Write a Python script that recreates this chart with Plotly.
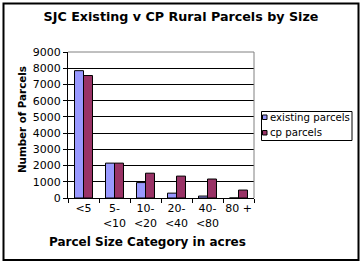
import plotly.graph_objects as go

categories = ["<5", "5-<br><10", "10-<br><20", "20-<br><40", "40-<br><80", "80 +"]
existing = [7850, 2150, 950, 300, 120, 0]
cp = [7550, 2150, 1530, 1350, 1170, 490]
yticks = [0, 1000, 2000, 3000, 4000, 5000, 6000, 7000, 8000, 9000]
series_names = ["existing parcels", "cp parcels"]
series_colors = ["#9999FF", "#993366"]

W, H = 364, 265
L, R, T, B = 68, 254, 52, 198  # plot area pixel box

def px(x):
    return (x - L) / (R - L)

def py(y):
    return (B - y) / (B - T)

FONT = "DejaVu Sans"

fig = go.Figure()
for vals, name, col in zip([existing, cp], series_names, series_colors):
    fig.add_trace(go.Bar(x=categories, y=vals, name=name,
                         marker=dict(color=col, line=dict(color="black", width=1))))

fig.update_layout(
    width=W, height=H,
    margin=dict(l=L, r=W - R, t=T, b=H - B, autoexpand=False),
    paper_bgcolor="white", plot_bgcolor="white",
    font=dict(family=FONT, size=11, color="black"),
    barmode="group", bargap=0.42, bargroupgap=0,
    title=dict(text="<b>SJC Existing v CP Rural Parcels by Size</b>",
               x=181 / W, xanchor="center", y=1 - 17 / H, yanchor="middle",
               font=dict(family=FONT, size=12.7, color="black")),
    showlegend=False,
)
fig.update_xaxes(type="category", showline=True, linecolor="black", linewidth=1,
                 ticks="outside", tickson="boundaries", ticklen=4, tickcolor="black",
                 tickfont=dict(family=FONT, size=11), showgrid=False, tickangle=0)
fig.update_yaxes(range=[0, 9000], tickvals=yticks, showline=True, linecolor="black",
                 linewidth=1, ticks="outside", ticklen=4, tickcolor="black",
                 showgrid=True, gridcolor="black", gridwidth=1,
                 tickfont=dict(family=FONT, size=11), zeroline=False)

# plot area border (top and right, gray)
fig.add_shape(type="line", xref="paper", yref="paper", x0=0, x1=1, y0=1, y1=1,
              line=dict(color="#808080", width=1), layer="above")
fig.add_shape(type="line", xref="paper", yref="paper", x0=1, x1=1, y0=0, y1=1,
              line=dict(color="#808080", width=1), layer="above")
# outer chart frame
fig.add_shape(type="rect", xref="paper", yref="paper",
              x0=px(3.5), x1=px(358.5), y0=py(260), y1=py(3.5),
              line=dict(color="black", width=2), layer="above")

# legend box (drawn)
fig.add_shape(type="rect", xref="paper", yref="paper",
              x0=px(261.5), x1=px(352), y0=py(140.5), y1=py(111.5),
              line=dict(color="black", width=1), fillcolor="white", layer="above")
for i, (name, col) in enumerate(zip(series_names, series_colors)):
    cy = 117 + 15.5 * i
    fig.add_shape(type="rect", xref="paper", yref="paper",
                  x0=px(262.5), x1=px(267), y0=py(cy + 2.5), y1=py(cy - 2),
                  line=dict(color="black", width=1), fillcolor=col, layer="above")
    fig.add_annotation(text=name, xref="paper", yref="paper",
                       x=px(267.5), y=py(cy), showarrow=False,
                       xanchor="left", yanchor="middle",
                       font=dict(family=FONT, size=10.2))

fig.add_annotation(text="<b>Number of Parcels</b>", xref="paper", yref="paper",
                   x=px(22), y=py(120), textangle=-90, showarrow=False,
                   xanchor="center", yanchor="middle",
                   font=dict(family=FONT, size=10.3))
fig.add_annotation(text="<b>Parcel Size Category in acres</b>", xref="paper", yref="paper",
                   x=px(147), y=py(242), showarrow=False,
                   xanchor="center", yanchor="middle",
                   font=dict(family=FONT, size=12))

fig.write_html("out.html")
